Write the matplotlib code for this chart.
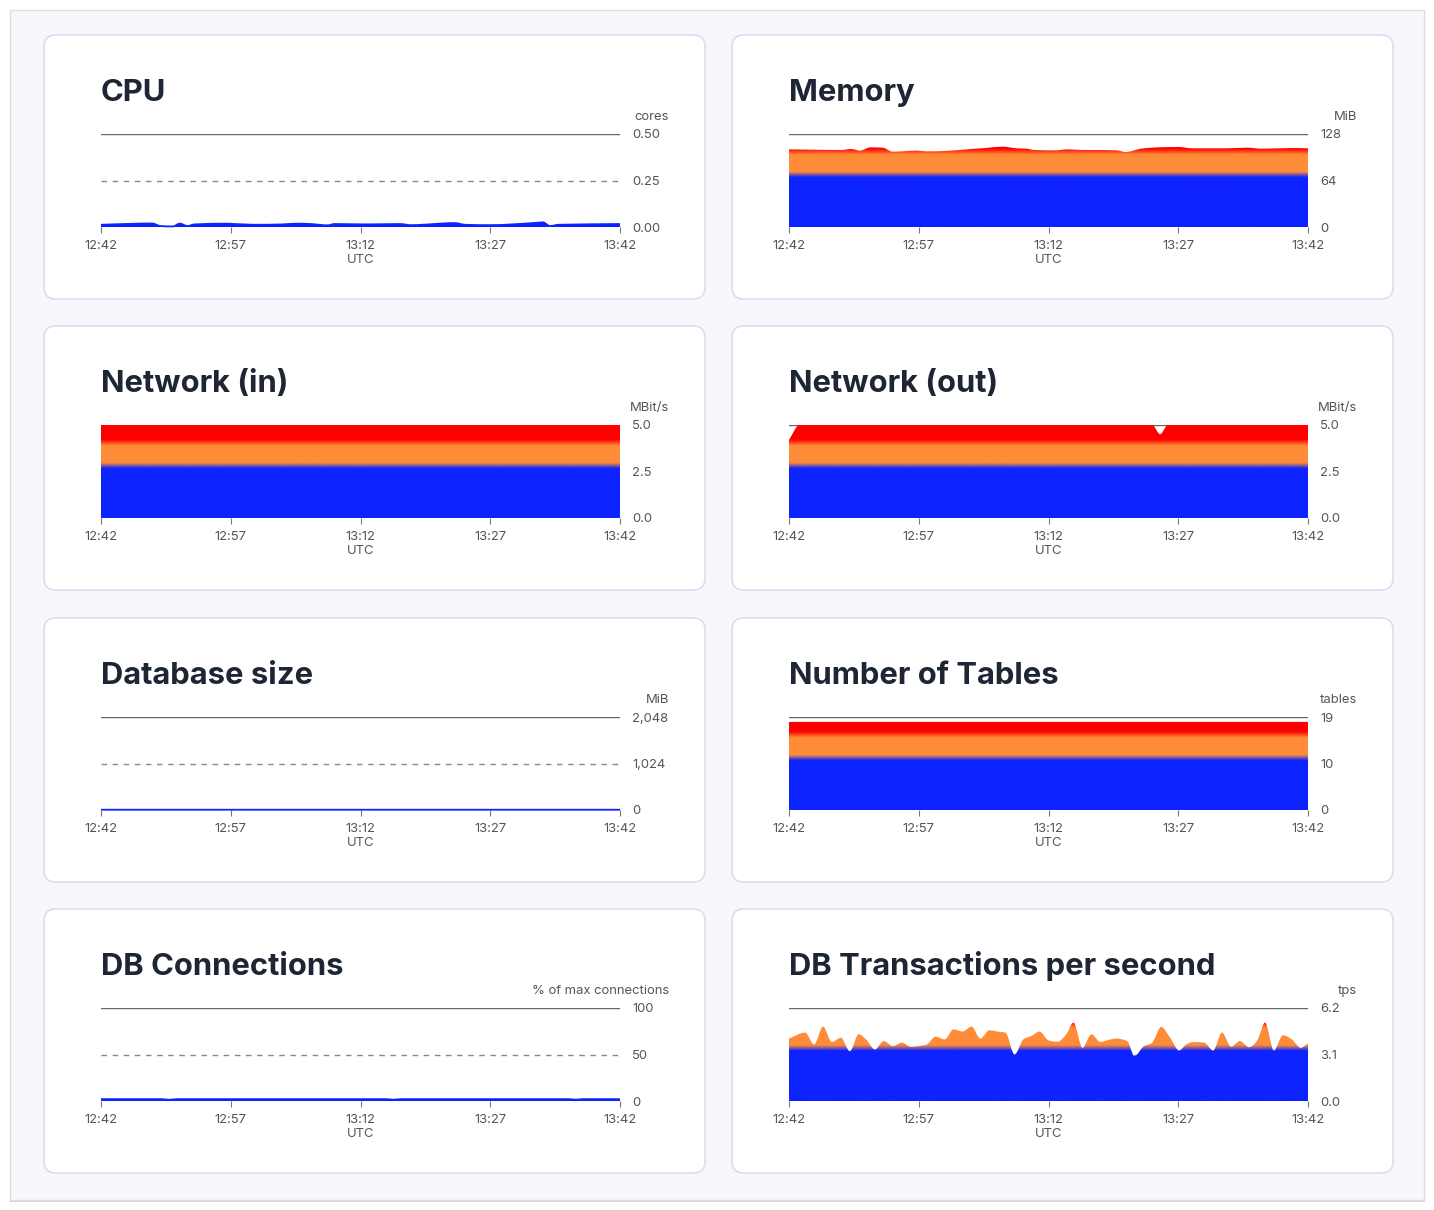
import matplotlib.pyplot as plt
import numpy as np
from matplotlib.colors import LinearSegmentedColormap
from matplotlib.patches import FancyBboxPatch, PathPatch, Rectangle
from matplotlib.path import Path

W, H = 1434, 1210
DPI = 100

TIME_TICKS = [0, 15, 30, 45, 60]
TIME_LABELS = ["12:42", "12:57", "13:12", "13:27", "13:42"]

CPU_T = [0, 2.7, 5.9, 6.9, 8.3, 9.1, 10.0, 10.8, 14.6, 15.4, 16.6, 17.8, 21.0, 22.6,
         24.2, 26.2, 27.0, 30.6, 34.6, 35.8, 40.9, 42.1, 44.9, 50.5, 51.1, 51.9, 52.9, 60]
CPU_V = [0.012, 0.016, 0.019, 0.005, 0.003, 0.018, 0.005, 0.014, 0.018, 0.016, 0.014,
         0.012, 0.014, 0.018, 0.016, 0.009, 0.016, 0.014, 0.016, 0.010, 0.021, 0.012,
         0.010, 0.023, 0.025, 0.005, 0.012, 0.016]

MEM_T = [0, 2.8, 6.0, 7.2, 8.2, 9.4, 10.8, 12.0, 14.8, 15.9, 18.7, 21.1, 22.7, 24.7,
         26.3, 27.5, 28.3, 30.7, 32.3, 33.9, 35.5, 37.9, 38.9, 40.7, 42.7, 45.1, 46.6,
         50.6, 53.0, 54.6, 56.6, 58.6, 60]
MEM_V = [106.9, 106.4, 106.0, 107.4, 105.1, 109.6, 109.2, 103.7, 105.1, 104.1, 105.1,
         107.4, 108.7, 110.6, 108.3, 107.8, 106.0, 105.5, 106.9, 106.0, 106.0, 105.5,
         103.2, 107.8, 109.6, 110.1, 108.3, 108.3, 109.2, 107.8, 108.3, 108.7, 108.3]

NET_IN_T = [0, 15, 30, 45, 60]
NET_IN_V = [5.0, 5.0, 5.0, 5.0, 5.0]

NET_OUT_T = [0, 1.2, 42.0, 42.9, 43.8, 60]
NET_OUT_V = [4.2, 5.0, 5.0, 4.5, 5.0, 5.0]

DBSIZE_T = [0, 15, 30, 45, 60]
DBSIZE_V = [6.0, 6.0, 6.0, 6.0, 6.0]

TABLES_T = [0, 15, 30, 45, 60]
TABLES_V = [18, 18, 18, 18, 18]

CONN_T = [0, 7.0, 7.9, 8.8, 33.0, 33.8, 34.6, 54.1, 54.9, 55.7, 60]
CONN_V = [2.0, 2.0, 1.3, 2.0, 2.0, 1.4, 2.0, 2.0, 1.4, 2.0, 2.0]

TPS_T = [0, 1.86, 2.90, 3.93, 4.96, 6.00, 7.03, 8.07, 8.90, 9.93, 10.96, 12.0, 13.03,
         14.07, 14.98, 15.93, 16.96, 18.0, 19.03, 20.07, 21.10, 22.13, 23.17, 24.08,
         25.03, 26.07, 27.10, 28.05, 28.96, 30.0, 31.03, 32.06, 32.89, 33.93, 34.96,
         36.0, 36.9, 37.86, 39.1, 39.93, 40.96, 41.99, 43.03, 44.06, 45.1, 45.92, 46.75,
         47.99, 49.03, 50.06, 51.1, 52.13, 53.17, 54.2, 55.03, 56.06, 57.1, 58.13, 59.16, 60]
TPS_V = [4.16, 4.56, 3.77, 4.96, 3.93, 4.22, 3.32, 4.45, 4.11, 3.44, 4.00, 3.66, 3.89,
         3.62, 3.66, 3.77, 4.29, 4.11, 4.78, 4.63, 4.96, 4.16, 4.72, 4.63, 4.56, 3.10,
         4.11, 4.34, 4.63, 4.04, 3.95, 4.45, 5.23, 3.55, 4.45, 3.93, 4.07, 4.16, 4.00,
         2.99, 3.62, 3.89, 4.94, 4.22, 3.37, 3.77, 3.93, 3.89, 3.37, 4.56, 3.62, 4.00,
         3.59, 4.11, 5.23, 3.37, 4.38, 4.11, 3.55, 3.84]

# (title, unit, ymax, tick labels bottom->top, times, values)
PANELS = [
    ("CPU", "cores", 0.5, ["0.00", "0.25", "0.50"], CPU_T, CPU_V),
    ("Memory", "MiB", 128, ["0", "64", "128"], MEM_T, MEM_V),
    ("Network (in)", "MBit/s", 5.0, ["0.0", "2.5", "5.0"], NET_IN_T, NET_IN_V),
    ("Network (out)", "MBit/s", 5.0, ["0.0", "2.5", "5.0"], NET_OUT_T, NET_OUT_V),
    ("Database size", "MiB", 2048, ["0", "1,024", "2,048"], DBSIZE_T, DBSIZE_V),
    ("Number of Tables", "tables", 19, ["0", "10", "19"], TABLES_T, TABLES_V),
    ("DB Connections", "% of max connections", 100, ["0", "50", "100"], CONN_T, CONN_V),
    ("DB Transactions per second", "tps", 6.2, ["0.0", "3.1", "6.2"], TPS_T, TPS_V),
]

PANEL_LEFTS = [44, 732]
PANEL_TOPS = [35, 326, 618, 909]
PANEL_W, PANEL_H = 661, 264

BLUE = "#0d23ff"
ORANGE = "#ff8c38"
RED = "#ff0000"
GRADIENT = LinearSegmentedColormap.from_list(
    "usage",
    [(0.0, BLUE), (0.535, BLUE), (0.595, ORANGE), (0.78, ORANGE), (0.845, RED), (1.0, RED)],
)

TITLE_COLOR = "#1e2635"
LABEL_COLOR = "#555555"

plt.rcParams["font.family"] = ["Inter", "DejaVu Sans"]


def px_rect(x, y, w, h):
    return [x / W, 1 - (y + h) / H, w / W, h / H]


def monotone_curve(t, v):
    # smooth monotone (Steffen) cubic through the samples, as bezier segments
    h = np.diff(t)
    d = np.diff(v) / h
    m = np.empty_like(v)
    m[0], m[-1] = d[0], d[-1]
    for k in range(1, len(v) - 1):
        p = (d[k - 1] * h[k] + d[k] * h[k - 1]) / (h[k - 1] + h[k])
        m[k] = (np.sign(d[k - 1]) + np.sign(d[k])) * min(abs(d[k - 1]), abs(d[k]), 0.5 * abs(p))
    verts = [(t[0], v[0])]
    codes = [Path.MOVETO]
    for k in range(len(t) - 1):
        dx = h[k] / 3
        verts += [(t[k] + dx, v[k] + m[k] * dx),
                  (t[k + 1] - dx, v[k + 1] - m[k + 1] * dx),
                  (t[k + 1], v[k + 1])]
        codes += [Path.CURVE4] * 3
    return verts, codes


def draw_panel(fig, left, top, title, unit, ymax, ylabels, times, values):
    fig.text((left + 57) / W, 1 - (top + 66) / H, title, fontsize=22.3,
             fontweight="bold", color=TITLE_COLOR, va="baseline", ha="left")
    fig.text((left + 625) / W, 1 - (top + 82) / H, unit, fontsize=9.4,
             color=LABEL_COLOR, va="center", ha="right")

    ax = fig.add_axes(px_rect(left + 57, top + 99, 519, 93))
    ax.set_facecolor("none")
    for spine in ax.spines.values():
        spine.set_visible(False)

    ax.axhline(ymax, color="#666666", linewidth=1.0, zorder=1)
    ax.axhline(ymax / 2, color="#888888", linewidth=1.0, linestyle=(0, (4, 4)), zorder=1)

    t = np.asarray(times, dtype=float)
    v = np.asarray(values, dtype=float)
    verts, codes = monotone_curve(t, v)
    area = Path(verts + [(t[-1], 0), (t[0], 0), (t[0], v[0])],
                codes + [Path.LINETO, Path.LINETO, Path.CLOSEPOLY])
    clip = PathPatch(area, transform=ax.transData)
    grad = np.linspace(0, 1, 400).reshape(-1, 1)
    im = ax.imshow(grad, extent=(0, 60, 0, ymax), origin="lower", aspect="auto",
                   cmap=GRADIENT, vmin=0, vmax=1, interpolation="bilinear", zorder=2)
    im.set_clip_path(clip)

    # top edge of the area, stroked in the colour its level maps to
    edge_color = GRADIENT(float(np.mean(v)) / ymax)
    if float(np.mean(v)) / ymax < 0.5:
        ax.add_patch(PathPatch(Path(verts, codes), facecolor="none", edgecolor=edge_color,
                               linewidth=1.3, zorder=3, clip_on=False))

    ax.set_xlim(0, 60)
    ax.set_ylim(0, ymax)
    ax.set_xticks(TIME_TICKS, labels=TIME_LABELS)
    ax.tick_params(axis="x", length=4.3, width=0.8, color="#777777", labelsize=9.4,
                   labelcolor=LABEL_COLOR, pad=4.8)
    ax.yaxis.tick_right()
    ax.set_yticks([0, ymax / 2, ymax], labels=ylabels)
    ax.tick_params(axis="y", length=0, labelsize=9.4, labelcolor=LABEL_COLOR, pad=8.6)
    for lab in ax.get_yticklabels():
        lab.set_horizontalalignment("left")
    ax.annotate("UTC", xy=(30, 0), xycoords="data", xytext=(0, -23.5),
                textcoords="offset points", ha="center", va="center",
                fontsize=9.4, color=LABEL_COLOR, annotation_clip=False)
    return ax


fig = plt.figure(figsize=(W / DPI, H / DPI), dpi=DPI)
fig.patch.set_facecolor("white")

bg = fig.add_axes([0, 0, 1, 1])
bg.set_xlim(0, W)
bg.set_ylim(H, 0)
bg.axis("off")
bg.add_patch(Rectangle((10, 11), 1415, 1191, facecolor="#d4d4d8", edgecolor="none"))
bg.add_patch(Rectangle((10, 10), 1414, 1190, facecolor="#f8f7fc", edgecolor="#dcdce2",
                       linewidth=1.0))

for i, (title, unit, ymax, ylabels, times, values) in enumerate(PANELS):
    left = PANEL_LEFTS[i % 2]
    top = PANEL_TOPS[i // 2]
    bg.add_patch(FancyBboxPatch((left, top), PANEL_W, PANEL_H,
                                boxstyle="round,pad=0,rounding_size=12",
                                facecolor="white", edgecolor="#d9d7ea", linewidth=1.0))
    draw_panel(fig, left, top, title, unit, ymax, ylabels, times, values)

fig.savefig("out.png", dpi=DPI)
